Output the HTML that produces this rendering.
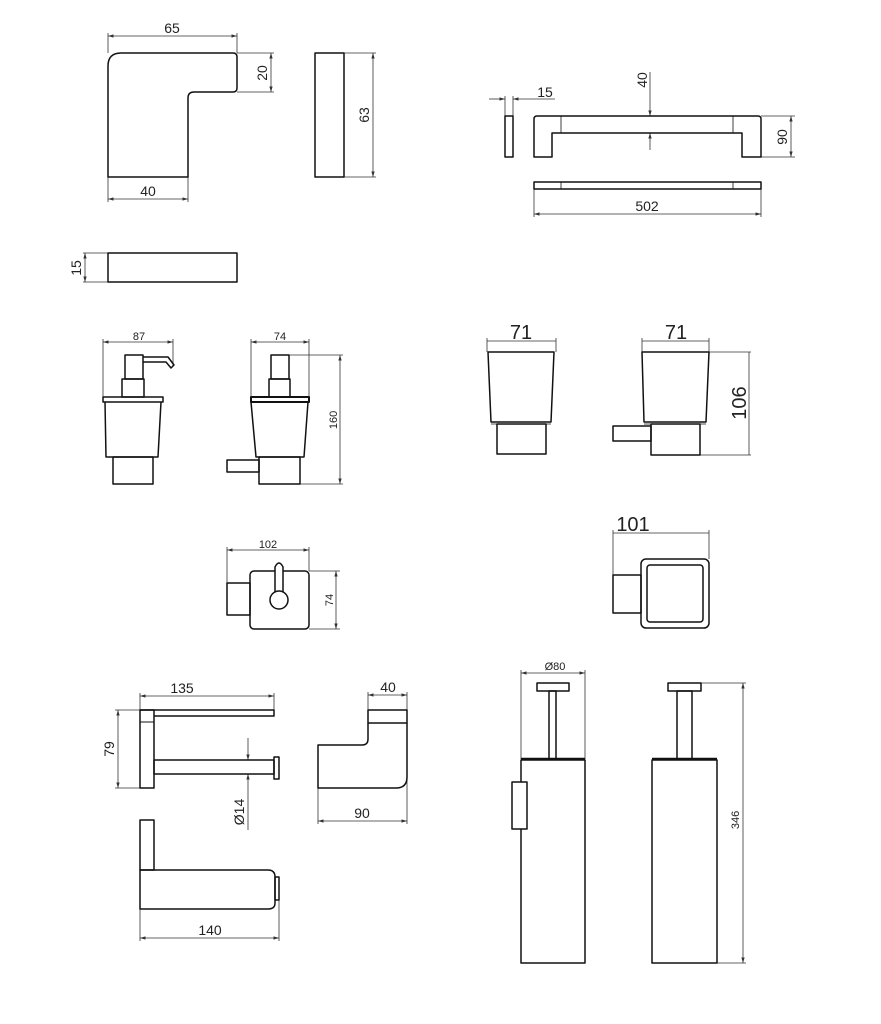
<!DOCTYPE html>
<html><head><meta charset="utf-8"><style>
html,body{margin:0;padding:0;background:#fff;}
svg{display:block;}
text{font-family:"Liberation Sans",Arial,sans-serif;fill:#222;}
</style></head><body>
<svg width="881" height="1024" viewBox="0 0 881 1024" xmlns="http://www.w3.org/2000/svg">
<defs>
<marker id="a" viewBox="0 0 10 10" refX="10" refY="5" markerWidth="7" markerHeight="7" orient="auto-start-reverse"><path d="M0,2 L10,5 L0,8 z" fill="#333"/></marker>
</defs>
<g fill="none" stroke="#333" stroke-width="0.8">
<!-- dims group 1 -->
<line x1="108" y1="36" x2="237" y2="36" marker-start="url(#a)" marker-end="url(#a)"/>
<line x1="108" y1="33" x2="108" y2="53"/><line x1="237" y1="33" x2="237" y2="53"/>
<line x1="108" y1="199" x2="188" y2="199" marker-start="url(#a)" marker-end="url(#a)"/>
<line x1="108" y1="177" x2="108" y2="202"/><line x1="188" y1="177" x2="188" y2="202"/>
<line x1="271" y1="53" x2="271" y2="92" marker-start="url(#a)" marker-end="url(#a)"/>
<line x1="237" y1="53" x2="274" y2="53"/><line x1="237" y1="92" x2="274" y2="92"/>
<line x1="373" y1="53" x2="373" y2="177" marker-start="url(#a)" marker-end="url(#a)"/>
<line x1="344" y1="53" x2="376" y2="53"/><line x1="344" y1="177" x2="376" y2="177"/>
<line x1="85" y1="253" x2="85" y2="282" marker-start="url(#a)" marker-end="url(#a)"/>
<line x1="83" y1="253" x2="108" y2="253"/><line x1="83" y1="282" x2="108" y2="282"/>
<!-- towel bar dims -->
<line x1="489" y1="99" x2="505" y2="99" marker-end="url(#a)"/>
<line x1="555" y1="99" x2="513" y2="99" marker-end="url(#a)"/>
<line x1="505" y1="96" x2="505" y2="116"/><line x1="513" y1="96" x2="513" y2="116"/>
<line x1="650" y1="72" x2="650" y2="116" marker-end="url(#a)"/>
<line x1="650" y1="150" x2="650" y2="133" marker-end="url(#a)"/>
<line x1="791" y1="116" x2="791" y2="157" marker-start="url(#a)" marker-end="url(#a)"/>
<line x1="761" y1="116" x2="795" y2="116"/><line x1="761" y1="157" x2="795" y2="157"/>
<line x1="534" y1="214" x2="761" y2="214" marker-start="url(#a)" marker-end="url(#a)"/>
<line x1="534" y1="189" x2="534" y2="217"/><line x1="761" y1="189" x2="761" y2="217"/>
<!-- dispensers -->
<line x1="103" y1="342" x2="173" y2="342" marker-start="url(#a)" marker-end="url(#a)"/>
<line x1="103" y1="339" x2="103" y2="397"/><line x1="173" y1="339" x2="173" y2="366"/>
<line x1="251" y1="342" x2="309" y2="342" marker-start="url(#a)" marker-end="url(#a)"/>
<line x1="251" y1="339" x2="251" y2="397"/><line x1="309" y1="339" x2="309" y2="397"/>
<line x1="340" y1="355" x2="340" y2="484" marker-start="url(#a)" marker-end="url(#a)"/>
<line x1="289" y1="355" x2="343" y2="355"/><line x1="300" y1="484" x2="343" y2="484"/>
<!-- glasses -->
<line x1="487" y1="341" x2="556" y2="341"/>
<line x1="487" y1="338" x2="487" y2="352"/><line x1="556" y1="338" x2="556" y2="352"/>
<line x1="642" y1="341" x2="709" y2="341"/>
<line x1="642" y1="338" x2="642" y2="352"/><line x1="709" y1="338" x2="709" y2="352"/>
<line x1="749" y1="352" x2="749" y2="455"/>
<line x1="709" y1="352" x2="751" y2="352"/><line x1="700" y1="455" x2="751" y2="455"/>
<line x1="613" y1="533" x2="709" y2="533"/>
<line x1="613" y1="530" x2="613" y2="575"/><line x1="709" y1="530" x2="709" y2="559"/>
<!-- soap holder -->
<line x1="227" y1="550" x2="309" y2="550" marker-start="url(#a)" marker-end="url(#a)"/>
<line x1="227" y1="547" x2="227" y2="583"/><line x1="309" y1="547" x2="309" y2="571"/>
<line x1="336" y1="571" x2="336" y2="629" marker-start="url(#a)" marker-end="url(#a)"/>
<line x1="309" y1="571" x2="340" y2="571"/><line x1="309" y1="629" x2="340" y2="629"/>
<!-- paper holder -->
<line x1="140" y1="696" x2="274" y2="696" marker-start="url(#a)" marker-end="url(#a)"/>
<line x1="140" y1="693" x2="140" y2="710"/><line x1="274" y1="693" x2="274" y2="710"/>
<line x1="118" y1="710" x2="118" y2="788" marker-start="url(#a)" marker-end="url(#a)"/>
<line x1="115" y1="710" x2="140" y2="710"/><line x1="115" y1="788" x2="140" y2="788"/>
<line x1="248" y1="738" x2="248" y2="760" marker-end="url(#a)"/>
<line x1="248" y1="830" x2="248" y2="774" marker-end="url(#a)"/>
<line x1="140" y1="938" x2="279" y2="938" marker-start="url(#a)" marker-end="url(#a)"/>
<line x1="140" y1="909" x2="140" y2="941"/><line x1="279" y1="900" x2="279" y2="941"/>
<!-- hook -->
<line x1="368" y1="695" x2="407" y2="695" marker-start="url(#a)" marker-end="url(#a)"/>
<line x1="368" y1="692" x2="368" y2="710"/><line x1="407" y1="692" x2="407" y2="710"/>
<line x1="318" y1="821" x2="407" y2="821" marker-start="url(#a)" marker-end="url(#a)"/>
<line x1="318" y1="788" x2="318" y2="824"/><line x1="407" y1="772" x2="407" y2="824"/>
<!-- brushes -->
<line x1="521" y1="673" x2="585" y2="673" marker-start="url(#a)" marker-end="url(#a)"/>
<line x1="521" y1="670" x2="521" y2="759"/><line x1="585" y1="670" x2="585" y2="759"/>
<line x1="743" y1="683" x2="743" y2="963" marker-start="url(#a)" marker-end="url(#a)"/>
<line x1="701" y1="683" x2="746" y2="683"/><line x1="717" y1="963" x2="746" y2="963"/>
</g>

<g fill="none" stroke="#111" stroke-width="1.5" stroke-linejoin="round">
<!-- L-shape -->
<path d="M108,177 L108,66 Q108,53 121,53 L233,53 Q237,53 237,57 L237,88 Q237,92 233,92 L194,92 Q188,92 188,98 L188,177 Z"/>
<rect x="315" y="53" width="29" height="124"/>
<rect x="108" y="253" width="129" height="29"/>
<!-- towel bar -->
<rect x="505" y="116" width="8" height="41"/>
<path d="M534,157 L534,119 Q534,116 537,116 L758,116 Q761,116 761,119 L761,157 L742,157 L742,133 L552,133 L552,157 Z"/>
<line x1="561" y1="116" x2="561" y2="133" stroke-width="0.8"/>
<line x1="733" y1="116" x2="733" y2="133" stroke-width="0.8"/>
<rect x="534" y="182" width="227" height="7"/>
<line x1="561" y1="182" x2="561" y2="189" stroke-width="0.8"/>
<line x1="733" y1="182" x2="733" y2="189" stroke-width="0.8"/>
<!-- dispenser 1 -->
<rect x="125" y="355" width="18" height="24"/>
<path d="M143,357 L168,357 L174,365 L171,368 L166,362 L143,362"/>
<rect x="122" y="379" width="22" height="18"/>
<rect x="103" y="397" width="60" height="5"/>
<path d="M105,402 L106,457 L158,457 L161,402"/>
<rect x="113" y="457" width="40" height="27"/>
<!-- dispenser 2 -->
<rect x="271" y="355" width="18" height="24"/>
<rect x="269" y="379" width="21" height="18"/>
<rect x="251" y="397" width="58" height="5" stroke-width="2"/>
<path d="M251,402 L256,457 L304,457 L308,402"/>
<rect x="259" y="457" width="41" height="27"/>
<rect x="227" y="460" width="32" height="12"/>
<!-- glass 1 -->
<path d="M488,352 L554,352 L551,422 L491,422 Z"/>
<line x1="491" y1="424" x2="551" y2="424" stroke-width="0.8"/>
<rect x="497" y="424" width="49" height="30"/>
<!-- glass 2 -->
<path d="M642,352 L709,352 L706,422 L644,422 Z"/>
<line x1="644" y1="424" x2="706" y2="424" stroke-width="0.8"/>
<rect x="651" y="424" width="49" height="31"/>
<rect x="613" y="426" width="38" height="15"/>
<!-- soap dish -->
<rect x="641" y="559" width="68" height="69" rx="5"/>
<rect x="647" y="565" width="56" height="57" rx="3"/>
<rect x="613" y="575" width="28" height="38"/>
<!-- soap holder -->
<rect x="250" y="571" width="59" height="58" rx="4"/>
<rect x="227" y="583" width="23" height="32"/>
<path d="M275,592 L275,567 Q279,559 283,567 L283,592" fill="#fff"/>
<circle cx="279" cy="600" r="9" fill="#fff"/>
<!-- paper holder -->
<path d="M140,710 L274,710 L274,716 L154,716"/>
<rect x="140" y="710" width="14" height="78"/>
<line x1="140" y1="722" x2="154" y2="722" stroke-width="1"/>
<rect x="154" y="760" width="120" height="14"/>
<rect x="274" y="757" width="5" height="22"/>
<rect x="140" y="820" width="14" height="50"/>
<path d="M140,870 L268,870 Q275,870 275,877 L275,903 Q275,909 268,909 L140,909 Z"/>
<rect x="275" y="877" width="4" height="23"/>
<!-- hook -->
<rect x="368" y="710" width="39" height="13"/>
<path d="M368,723 L368,739 Q368,745 362,745 L318,745 L318,788 L396,788 Q407,788 407,777 L407,723"/>
<!-- brush 1 -->
<rect x="537" y="683" width="32" height="8"/>
<rect x="549" y="691" width="7" height="68"/>
<line x1="521" y1="759" x2="585" y2="759" stroke-width="2.5"/>
<rect x="521" y="760" width="64" height="203"/>
<rect x="512" y="782" width="15" height="47" fill="#fff"/>
<!-- brush 2 -->
<rect x="668" y="683" width="33" height="8"/>
<rect x="677" y="691" width="15" height="68"/>
<line x1="652" y1="759" x2="717" y2="759" stroke-width="2.5"/>
<rect x="652" y="760" width="65" height="203"/>
</g>

<!-- labels -->
<g font-size="14">
<text x="172" y="33" text-anchor="middle">65</text>
<text x="148" y="196" text-anchor="middle">40</text>
<text transform="translate(267,73) rotate(-90)" text-anchor="middle">20</text>
<text transform="translate(369,115) rotate(-90)" text-anchor="middle">63</text>
<text transform="translate(81,268) rotate(-90)" text-anchor="middle">15</text>
<text x="545" y="97" text-anchor="middle">15</text>
<text transform="translate(647,80) rotate(-90)" text-anchor="middle">40</text>
<text transform="translate(787,137) rotate(-90)" text-anchor="middle">90</text>
<text x="647" y="211" text-anchor="middle">502</text>
<text x="182" y="693" text-anchor="middle">135</text>
<text transform="translate(114,749) rotate(-90)" text-anchor="middle">79</text>
<text transform="translate(244,812) rotate(-90)" text-anchor="middle">Ø14</text>
<text x="210" y="935" text-anchor="middle">140</text>
<text x="388" y="692" text-anchor="middle">40</text>
<text x="362" y="818" text-anchor="middle">90</text>
</g>
<g font-size="11">
<text x="139" y="340" text-anchor="middle">87</text>
<text x="280" y="340" text-anchor="middle">74</text>
<text transform="translate(337,420) rotate(-90)" text-anchor="middle">160</text>
<text x="268" y="548" text-anchor="middle">102</text>
<text transform="translate(333,600) rotate(-90)" text-anchor="middle">74</text>
<text x="555" y="670" text-anchor="middle">Ø80</text>
<text transform="translate(739,820) rotate(-90)" text-anchor="middle">346</text>
</g>
<g font-size="20">
<text x="521" y="339" text-anchor="middle">71</text>
<text x="676" y="339" text-anchor="middle">71</text>
<text transform="translate(746,403) rotate(-90)" text-anchor="middle">106</text>
<text x="633" y="531" text-anchor="middle">101</text>
</g>
</svg>
</body></html>
